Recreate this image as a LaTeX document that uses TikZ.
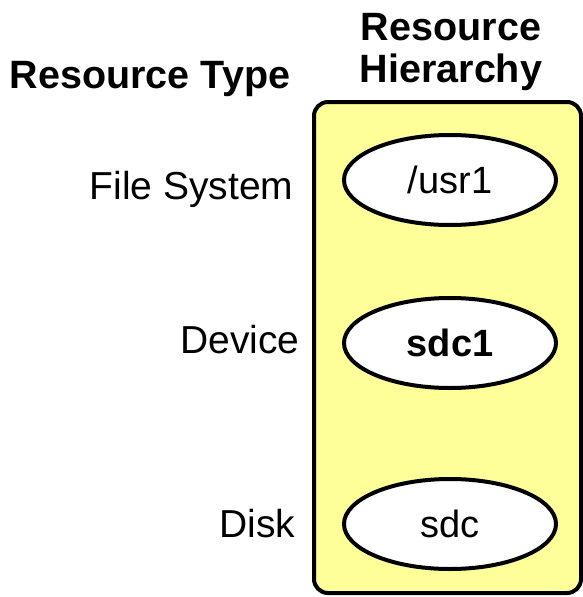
\documentclass[tikz,border=0pt]{standalone}
\usepackage{fontspec}
\setmainfont{Liberation Sans}
\usetikzlibrary{shapes.geometric}
\definecolor{hierfill}{RGB}{255,255,153}
\begin{document}
\begin{tikzpicture}[x=1pt, y=-1pt,
    heading/.style={anchor=base, font=\bfseries\fontsize{39.5}{44}\selectfont},
    restype/.style={anchor=base east, font=\fontsize{39}{44}\selectfont},
    reslevel/.style={draw, ellipse, line width=4pt, fill=white, minimum width=212pt, minimum height=90pt, inner sep=0pt, font=\fontsize{38}{44}\selectfont}]
    \useasboundingbox (0,0) rectangle (583,597);

    % Headings
    \node[heading] (typehead) at (150,88) {Resource Type};
    \node[heading] (hierhead1) at (451,40) {Resource};
    \node[heading] (hierhead2) at (451,82) {Hierarchy};

    % Hierarchy box
    \draw[line width=4pt, fill=hierfill, rounded corners=14pt] (314,102) rectangle (581,593);

    % Resource types
    \node[restype] (fstype) at (297,199) {File System};
    \node[restype] (devtype) at (303,353) {Device};
    \node[restype] (disktype) at (299,537) {Disk};

    % Resources
    \node[reslevel] (usr1) at (450,180) {/usr1};
    \node[reslevel, font=\bfseries\fontsize{38}{44}\selectfont] (sdc1) at (450,343) {sdc1};
    \node[reslevel] (sdc) at (450,524) {sdc};
\end{tikzpicture}
\end{document}
